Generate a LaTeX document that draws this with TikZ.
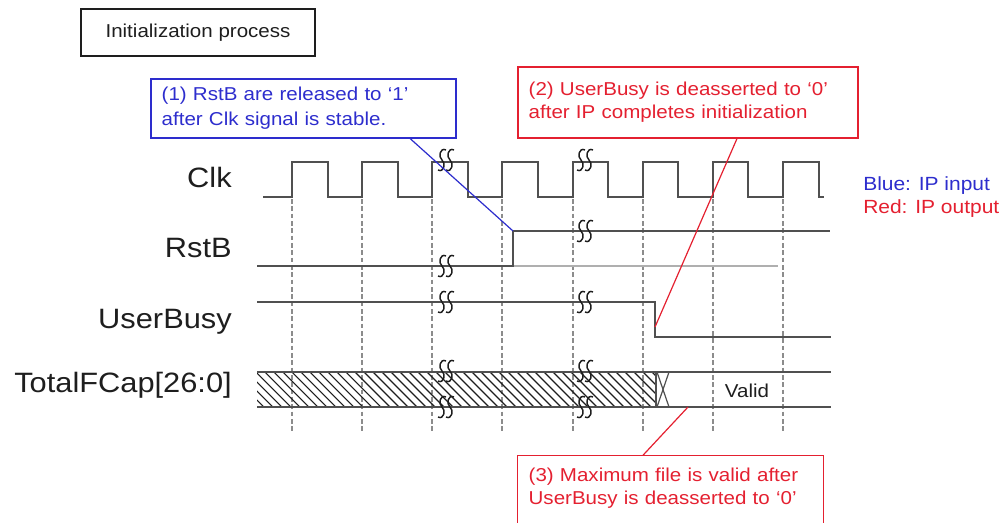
\documentclass[tikz,border=0pt]{standalone}
\usepackage{fontspec}
\setmainfont{Liberation Sans}[FakeStretch=1.1]
\usepackage{tikz}

\definecolor{sigline}{RGB}{80,80,80}
\definecolor{gridgray}{RGB}{140,140,140}
\definecolor{ghostgray}{RGB}{175,175,175}
\definecolor{noteblue}{RGB}{45,45,205}
\definecolor{notered}{RGB}{228,32,48}
\definecolor{inktext}{RGB}{30,30,30}

\tikzset{
    sig/.style={sigline, line width=1.3pt},
    gridline/.style={gridgray, line width=1pt, dash pattern=on 3.5pt off 2pt},
    breakmark/.style={inktext, line width=1.1pt},
    siglabel/.style={inktext, anchor=base east, inner sep=0pt, font=\fontsize{21}{25}\selectfont},
    titlebox/.style={draw=sigline, line width=0.9pt, inktext, minimum width=175.5pt, minimum height=35.25pt, font=\fontsize{14}{17}\selectfont},
    bluenote/.style={draw=noteblue, line width=0.9pt, noteblue, align=left, inner xsep=8pt, font=\fontsize{14}{18.75}\selectfont},
    rednote/.style={draw=notered, line width=0.9pt, notered, align=left, inner xsep=8pt, font=\fontsize{14}{17.25}\selectfont},
    legendtext/.style={anchor=base west, inner sep=0pt, font=\fontsize{14.3}{17}\selectfont}
}

\begin{document}
\begin{tikzpicture}[x=0.75pt,y=-0.75pt]
    \clip (0,0) rectangle (1000,522);

    %title
    \node[titlebox] (title) at (198,32.5) {Initialization process};

    %signal names
    \node[siglabel] (lblclk) at (232,187) {Clk};
    \node[siglabel] (lblrst) at (232,257) {RstB};
    \node[siglabel] (lblbusy) at (232,328) {UserBusy};
    \node[siglabel] (lblcap) at (232,392) {TotalFCap[26:0]};

    %clock edges
    \foreach \x in {292,362,432,502,573,643,713,783}
        \draw[gridline] (\x,199) -- (\x,432);

    %hatched part of the bus
    \begin{scope}
        \clip (257,372) rectangle (656,407);
        \foreach \x in {220,229,...,660}
            \draw[inktext, line width=0.8pt] (\x,372) -- (\x+35,407);
    \end{scope}

    %waveforms
    \draw[sig] (263,197) -- (292,197) -- (292,162) -- (328,162) -- (328,197) -- (362,197) -- (362,162) -- (398,162) -- (398,197)
        -- (432,197) -- (432,162) -- (468,162) -- (468,197) -- (502,197) -- (502,162) -- (538,162) -- (538,197)
        -- (573,197) -- (573,162) -- (608,162) -- (608,197) -- (643,197) -- (643,162) -- (678,162) -- (678,197)
        -- (713,197) -- (713,162) -- (748,162) -- (748,197) -- (783,197) -- (783,162) -- (819,162) -- (819,197) -- (824,197);
    \draw[ghostgray, line width=1.3pt] (513,266) -- (778,266);
    \draw[sig] (257,266) -- (513,266) -- (513,231) -- (830,231);
    \draw[sig] (257,302) -- (655,302) -- (655,337) -- (831,337);
    \draw[sig] (257,372) -- (831,372);
    \draw[sig] (257,407) -- (831,407);
    \draw[sig] (656,372) -- (656,407);
    \draw[sigline, line width=0.9pt] (657,372) -- (669,407);
    \draw[sigline, line width=0.9pt] (669,372) -- (657,407);
    \node[inktext, anchor=base, font=\fontsize{14}{17}\selectfont] (valid) at (747,397) {Valid};

    %break marks
    \foreach \bx/\by in {442/160, 442/266, 442/302, 442/371, 442/407, 581/160, 581/231, 581/302, 581/371, 581/407}
        \foreach \dx in {0,8}
            \draw[breakmark] (\bx+\dx+4,\by-10) .. controls (\bx+\dx-2,\by-13) and (\bx+\dx-4,\by-3) .. (\bx+\dx,\by)
                .. controls (\bx+\dx+4,\by+3) and (\bx+\dx+2,\by+13) .. (\bx+\dx-4,\by+10);

    %points the notes refer to
    \coordinate (rstrise) at (513,231);
    \coordinate (busyfall) at (655,327);
    \coordinate (validfoot) at (688,407);

    %notes
    \node[bluenote, text width=212.75pt, minimum height=44.25pt] (noteone) at (303.5,108.5)
        {(1) RstB are released to `1'\\after Clk signal is stable.};
    \node[rednote, text width=239pt, minimum height=53.25pt] (notetwo) at (688,102.5)
        {(2) UserBusy is deasserted to `0'\\after IP completes initialization};
    \node[rednote, draw=none, text width=212.75pt, inner ysep=9pt] (notethree) at (670.5,488)
        {(3) Maximum file is valid after\\UserBusy is deasserted to `0'};
    \draw[notered, line width=0.9pt] ([yshift=-20pt]notethree.south west) -- (notethree.north west) -- (notethree.north east) -- ([yshift=-20pt]notethree.south east);

    \draw[noteblue, line width=0.9pt] ([xshift=80pt]noteone.south) -- (rstrise);
    \draw[notered, line width=0.9pt] ([xshift=36.75pt]notetwo.south) -- (busyfall);
    \draw[notered, line width=0.9pt] ([xshift=-20.6pt]notethree.north) -- (validfoot);

    %legend
    \node[legendtext, noteblue] (legblue) at (863,190) {Blue: IP input};
    \node[legendtext, notered] (legred) at (863,213) {Red: IP output};

\end{tikzpicture}
\end{document}
